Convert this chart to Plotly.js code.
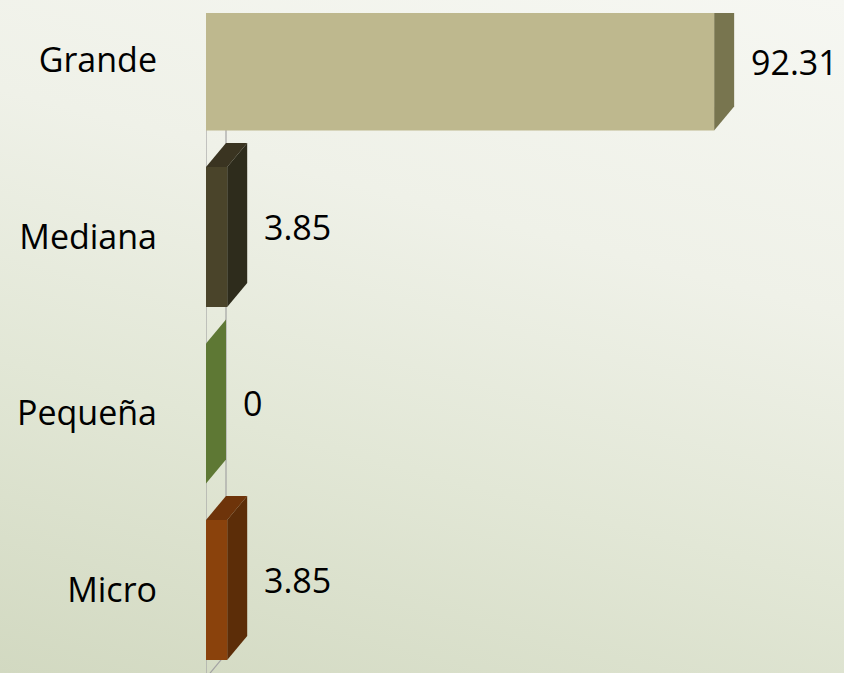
<!DOCTYPE html>
<html><head><meta charset="utf-8">
<script src="https://cdn.plot.ly/plotly-3.0.1.min.js"></script>
<style>
html,body{margin:0;padding:0;}
#chart{width:844px;height:673px;background:linear-gradient(15deg,#d2d9c1 0%,#e2e7d6 35%,#eff1e8 65%,#f6f7f2 100%);}
</style></head><body><div id="chart"></div>
<script>
// ---- data ----
const categories = ["Micro", "Pequeña", "Mediana", "Grande"];
const values = [3.85, 0, 3.85, 92.31];
const valueLabels = ["3.85", "0", "3.85", "92.31"];

// ---- styles ----
const frontColors = ["#8a420c", "#5e7834", "#4a442a", "#beb88e"];
const sideColors  = ["#5c2d08", "#5e7834", "#2e2c1c", "#78754f"];
const topColors   = ["#6e340a", "#5e7834", "#3a3421", "#9a9570"];
const FONT = "'Open Sans', 'Noto Sans', sans-serif";

// ---- 3D geometry (data units) ----
const xRange = [0, 115.9];
const yRange = [-0.4703, 3.2691];
const DX = 3.634, DY = 0.136, H = 0.397;
const yFloor = -0.4986;

const traces = [];
function poly(xs, ys, color) {
  traces.push({type: 'scatter', mode: 'lines', x: xs, y: ys, fill: 'toself',
    fillcolor: color, line: {width: 0, color: color}, hoverinfo: 'skip', showlegend: false});
}
function line(xs, ys, color, w) {
  traces.push({type: 'scatter', mode: 'lines', x: xs, y: ys,
    line: {width: w, color: color}, hoverinfo: 'skip', showlegend: false});
}
// wall lines
line([0, 0], [yFloor, yRange[1] + 1], '#a3a3a3', 1.2);
line([DX, DX], [yFloor + DY, yRange[1] + 1], '#a3a3a3', 1.2);
line([0, DX], [yFloor, yFloor + DY], '#a3a3a3', 1.2);

// bars
for (let i = categories.length - 1; i >= 0; i--) {
  const v = values[i], c = i;
  poly([0, v, v + DX, DX, 0], [c + H, c + H, c + H + DY, c + H + DY, c + H], topColors[i]);
  poly([v, v + DX, v + DX, v, v], [c - H, c - H + DY, c + H + DY, c + H, c - H], sideColors[i]);
  if (v > 0) poly([0, v, v, 0, 0], [c - H, c - H, c + H, c + H, c - H], frontColors[i]);
}

// value labels
const annotations = values.map((v, i) => {
  const lo = Math.max(i - H, yRange[0]);
  const hi = Math.min(i + H, yRange[1]);
  return {x: v + DX, y: (lo + hi) / 2, xref: 'x', yref: 'y', text: valueLabels[i],
    showarrow: false, xanchor: 'left', yanchor: 'middle', xshift: 15, yshift: 10,
    font: {family: FONT, size: 34, color: '#000000'}};
});

const layout = {
  width: 844, height: 673,
  margin: {l: 206, r: 0, t: 13, b: 0, pad: 0},
  paper_bgcolor: 'rgba(0,0,0,0)', plot_bgcolor: 'rgba(0,0,0,0)',
  xaxis: {range: xRange, visible: false, fixedrange: true},
  yaxis: {range: yRange, tickmode: 'array', tickvals: categories.map((c, i) => i),
    ticktext: categories, showgrid: false, zeroline: false, showline: false,
    ticks: '', ticklabelstandoff: 48, automargin: false,
    tickfont: {family: FONT, size: 34, color: '#000000'}, fixedrange: true},
  annotations: annotations,
  showlegend: false
};
Plotly.newPlot('chart', traces, layout, {displayModeBar: false, staticPlot: true});
</script></body></html>
